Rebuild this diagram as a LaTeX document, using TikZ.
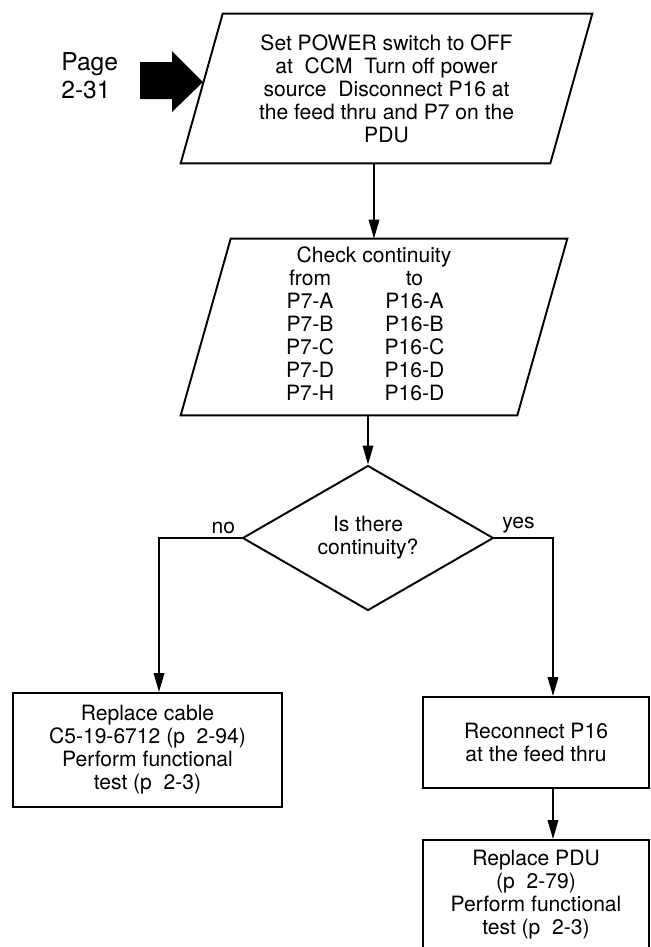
\documentclass[tikz,border=0pt]{standalone}
\usepackage{fontspec}
\setmainfont{TeX Gyre Heros}
\usepackage{tikz}
\usetikzlibrary{shapes.geometric, arrows.meta, positioning, calc}

\begin{document}
\begin{tikzpicture}[x=0.02cm, y=-0.02cm,
    line/.style={line width=1.1pt},
    flow/.style={line, -{Triangle[length=0.38cm, width=0.21cm]}},
    txt/.style={font=\fontsize{12}{13.1}\selectfont, align=center, inner sep=0pt},
    para/.style={txt},
    stepbox/.style={txt, draw, line, inner sep=0pt},
    lbl/.style={font=\fontsize{12}{13}\selectfont, inner sep=2pt}]
\path[use as bounding box, fill=white] (0,0) rectangle (651,947);

% entry from page 2-31
\node[anchor=west, align=left, inner sep=0pt, font=\fontsize{14}{16}\selectfont] (pageref) at (61,76) {Page\\2-31};
\fill (140,62) -- (172,62) -- (172,51) -- (203,82) -- (172,112) -- (172,99) -- (140,99) -- cycle;

% slanted boxes
\node[para, minimum width=7.38cm, minimum height=2.98cm] (power) at (386.5,88.5)
    {Set POWER switch to OFF\\at\ \ CCM\ \ Turn off power\\source\ \ Disconnect P16 at\\the feed thru and P7 on the\\PDU};
\draw[line] ([xshift=0.42cm]power.north west) -- ([xshift=0.42cm]power.north east)
    -- ([xshift=-0.42cm]power.south east) -- ([xshift=-0.42cm]power.south west) -- cycle;

\node[para, minimum width=6.72cm, minimum height=3.52cm] (check) at (374,327)
    {\begin{tabular}{@{}c@{\hspace{0.66cm}}c@{}}
     \multicolumn{2}{c}{Check continuity}\\
     from & to\\
     P7-A & P16-A\\
     P7-B & P16-B\\
     P7-C & P16-C\\
     P7-D & P16-D\\
     P7-H & P16-D
     \end{tabular}};
\draw[line] ([xshift=0.5cm]check.north west) -- ([xshift=0.5cm]check.north east)
    -- ([xshift=-0.5cm]check.south east) -- ([xshift=-0.5cm]check.south west) -- cycle;

% decision
\node[txt, diamond, draw, line, aspect=1.73, minimum width=5.02cm, minimum height=2.9cm] (cont) at (368,538)
    {Is there\\continuity?};

% outcomes
\node[stepbox, minimum width=5.38cm, minimum height=2.28cm] (fix) at (147.5,750)
    {Replace cable\\C5-19-6712 (p\ \ 2-94)\\Perform functional\\test (p\ \ 2-3)};
\node[stepbox, minimum width=4.52cm, minimum height=1.82cm] (reconnect) at (536,742.5)
    {Reconnect P16\\at the feed thru};
\node[stepbox, minimum width=4.52cm, minimum height=2.18cm] (pdu) at (536,894.5)
    {Replace PDU\\(p\ \ 2-79)\\Perform functional\\test (p\ \ 2-3)};

\coordinate (nocorner) at (159,538);
\coordinate (yescorner) at (553,538);

% connectors
\draw[flow] (power.south -| check.north) -- (check.north);
\draw[flow] (check.south -| cont.north) -- (cont.north);
\draw[flow] (cont.west) -- node[lbl, above, pos=0.22] (nolabel) {no} (nocorner) -- (nocorner |- fix.north);
\draw[flow] (cont.east) -- node[lbl, above, pos=0.41] (yeslabel) {yes} (yescorner) -- (yescorner |- reconnect.north);
\draw[flow] (yescorner |- reconnect.south) -- (yescorner |- pdu.north);
\end{tikzpicture}
\end{document}
